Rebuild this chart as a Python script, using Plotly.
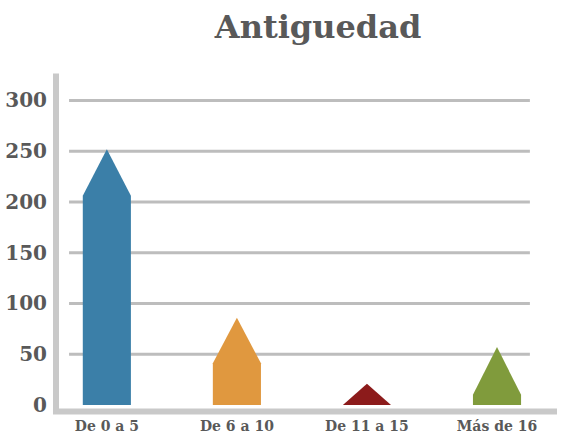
import plotly.graph_objects as go

# Datos
categorias = ["De 0 a 5", "De 6 a 10", "De 11 a 15", "Más de 16"]
puntas = [252, 86, 21, 57]      # altura de la punta de cada flecha
hombros = [206, 41, 0, 10]      # altura donde empieza el triángulo
colores = ["#3b7fa8", "#e0983f", "#8c1b1b", "#809b3c"]
ticks_y = [0, 50, 100, 150, 200, 250, 300]

fuente = "DejaVu Serif"
gris_texto = "#595959"
ancho = 0.37  # ancho de cada flecha en unidades de categoría

fig = go.Figure()

# Cada barra es una flecha: rectángulo + triángulo arriba
for i, (cat, punta, hombro, color) in enumerate(zip(categorias, puntas, hombros, colores)):
    m = ancho / 2
    fig.add_trace(go.Scatter(
        x=[i - m, i - m, i, i + m, i + m, i - m],
        y=[0, hombro, punta, hombro, 0, 0],
        fill="toself",
        fillcolor=color,
        line=dict(width=0, color=color),
        mode="lines",
        name=cat,
        hoverinfo="skip",
        showlegend=False,
    ))

# Líneas de la cuadrícula (solo de 50 en adelante)
for v in ticks_y[1:]:
    fig.add_shape(
        type="line", xref="paper", yref="y",
        x0=0.026, x1=0.944, y0=v, y1=v,
        line=dict(color="#bdbdbd", width=3),
        layer="below",
    )

# Ejes gruesos grises
fig.add_shape(type="line", xref="paper", yref="paper",
              x0=0.0, x1=0.0, y0=-0.01, y1=0.99,
              line=dict(color="#c9c9c9", width=6), layer="above")
fig.add_shape(type="line", xref="paper", yref="paper",
              x0=-0.006, x1=0.998, y0=-0.01, y1=-0.01,
              line=dict(color="#c9c9c9", width=6), layer="above")

fig.update_layout(
    width=563,
    height=439,
    paper_bgcolor="white",
    plot_bgcolor="white",
    margin=dict(l=55, r=5, t=70, b=29),
    title=dict(
        text="<b>Antiguedad</b>",
        x=0.565, xanchor="center",
        y=0.94, yanchor="middle",
        font=dict(family=fuente, size=32, color=gris_texto),
    ),
    xaxis=dict(
        range=[-0.391, 3.469],
        tickmode="array",
        tickvals=list(range(len(categorias))),
        ticktext=[f"<b>{c}</b>" for c in categorias],
        showgrid=False, zeroline=False, showline=False,
        ticks="", ticklabelstandoff=8,
        tickfont=dict(family=fuente, size=14, color=gris_texto),
        fixedrange=True,
    ),
    yaxis=dict(
        range=[-3, 330],
        tickmode="array",
        tickvals=ticks_y,
        ticktext=[f"<b>{v}</b>" for v in ticks_y],
        showgrid=False, zeroline=False, showline=False,
        ticks="", ticklabelstandoff=8,
        tickfont=dict(family=fuente, size=20, color=gris_texto),
        fixedrange=True,
    ),
)

# Quitar el margen del body para que el gráfico empiece en (0, 0)
fig.write_html(
    "out.html",
    config={"displayModeBar": False, "staticPlot": True},
    post_script="document.body.style.margin='0';",
)
